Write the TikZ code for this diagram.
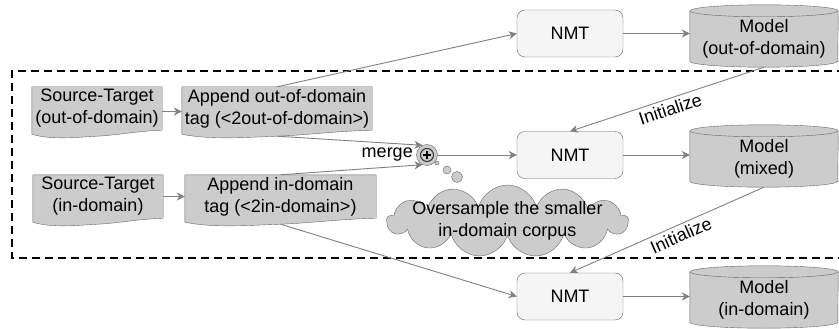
\documentclass[tikz,border=0pt]{standalone}
\usepackage{fontspec}
\setmainfont{Liberation Sans}
\usetikzlibrary{shapes.symbols,arrows.meta,calc,backgrounds}
\definecolor{boxgray}{HTML}{CCCCCC}
\definecolor{linegray}{HTML}{666666}
\definecolor{arrowgray}{HTML}{808080}
\definecolor{nmtfill}{HTML}{F5F5F5}
\tikzset{
  every node/.style={font=\fontsize{18}{22}\selectfont},
  corpus/.style={minimum height=43pt,inner sep=0pt,align=center},
  nmtbox/.style={draw=linegray,fill=nmtfill,rounded corners=8pt,minimum width=106pt,minimum height=47pt},
  modelbox/.style={minimum width=148pt,minimum height=56pt,inner sep=0pt,align=center},
  mergebox/.style={circle,draw=linegray,fill=boxgray,minimum size=21pt,inner sep=0pt},
  thought/.style={cloud,cloud puffs=13,cloud ignores aspect,draw=linegray,fill=boxgray,minimum width=241pt,minimum height=72pt},
  flow/.style={draw=arrowgray,line width=0.9pt,-{Stealth[length=8pt,width=8pt,inset=2.5pt]}},
  frame/.style={line width=2pt,dash pattern=on 8pt off 5pt}
}
\newcommand\corpusshape[1]{%
  \filldraw[draw=linegray,fill=boxgray]
    (#1.north west) -- (#1.north east) -- (#1.south east)
    .. controls ($(#1.south east)!0.2!(#1.south west)+(0,1)$) and ($(#1.south east)!0.35!(#1.south west)+(0,5)$) .. ($(#1.south east)!0.5!(#1.south west)+(0,6)$)
    .. controls ($(#1.south east)!0.65!(#1.south west)+(0,7)$) and ($(#1.south east)!0.85!(#1.south west)+(0,10)$) .. ($(#1.south west)+(0,4)$)
    -- cycle;}
\newcommand\modelshape[1]{%
  \filldraw[draw=linegray,fill=boxgray]
    (#1.north west) -- ([yshift=6pt]#1.south west)
    arc[start angle=180,end angle=360,x radius=74pt,y radius=6pt]
    -- (#1.north east)
    arc[start angle=0,end angle=180,x radius=74pt,y radius=6pt] -- cycle;
  \draw[linegray] (#1.north west) arc[start angle=180,end angle=360,x radius=74pt,y radius=6pt];}

\begin{document}
\begin{tikzpicture}[x=1pt,y=-1pt]
                            \useasboundingbox (0,0) rectangle (839,329);
                            \draw[frame] (845,71) -| (12,258) -- (845,258);

                            \node[corpus,minimum width=130pt] (stout) at (97,108.5) {Source-Target\\(out-of-domain)};
                            \node[corpus,minimum width=190pt] (tagout) at (277,108.5) {Append out-of-domain\\tag (<2out-of-domain>)};
                            \node[corpus,minimum width=130pt] (stin) at (98,196.5) {Source-Target\\(in-domain)};
                            \node[corpus,minimum width=191pt] (tagin) at (280.5,196.5) {Append in-domain\\tag (<2in-domain>)};

                            \node[nmtbox] (nmtout) at (570,33.5) {NMT};
                            \node[nmtbox] (nmtmix) at (570,155) {NMT};
                            \node[nmtbox] (nmtin) at (570,296.5) {NMT};

                            \node[modelbox] (modelout) at (764,39) {Model\\(out-of-domain)};
                            \node[modelbox] (modelmix) at (764,159) {Model\\(mixed)};
                            \node[modelbox] (modelin) at (764,300) {Model\\(in-domain)};

                            \begin{scope}[on background layer]
                            \corpusshape{stout}
                            \corpusshape{tagout}
                            \corpusshape{stin}
                            \corpusshape{tagin}
                            \modelshape{modelout}
                            \modelshape{modelmix}
                            \modelshape{modelin}
                            \end{scope}

                            \node[mergebox,label=left:merge] (merge) at (427,155) {};
                            \draw[line width=1pt,draw=black!80] (merge) circle (6.5pt);
                            \draw[line width=2.2pt] ([xshift=-4pt]merge.center) -- ([xshift=4pt]merge.center)
                                                    ([yshift=-4pt]merge.center) -- ([yshift=4pt]merge.center);

                            \filldraw[draw=linegray,fill=boxgray] (437,163) circle (2pt) (447,170) circle (4pt) (457,177) circle (5.5pt);
                            \node[thought,label={[align=center]center:Oversample the smaller\\in-domain corpus}] (oversample) at (507.5,221) {};

                            \draw[flow] ([yshift=-3pt]stout.east) -- ([yshift=-3pt]tagout.west);
                            \draw[flow] (stin) -- (tagin);
                            \draw[flow] (tagout.north) -- (nmtout.west);
                            \draw[flow] ([yshift=-6pt]tagout.south) -- (merge.115);
                            \draw[flow] (tagin.north) -- (merge.245);
                            \draw[flow] ([yshift=-6pt]tagin.south) -- (nmtin.west);
                            \draw[flow] (merge) -- (nmtmix);
                            \draw[flow] (nmtout.east) -- (nmtout.east -| modelout.west);
                            \draw[flow] (nmtmix.east) -- (nmtmix.east -| modelmix.west);
                            \draw[flow] (nmtin.east) -- (nmtin.east -| modelin.west);
                            \draw[flow] (modelout.south) -- (nmtmix.north) node[midway,sloped,below] {Initialize};
                            \draw[flow] (modelmix.south) -- (nmtin.north) node[pos=0.45,sloped,below] {Initialize};
                        \end{tikzpicture}
\end{document}
